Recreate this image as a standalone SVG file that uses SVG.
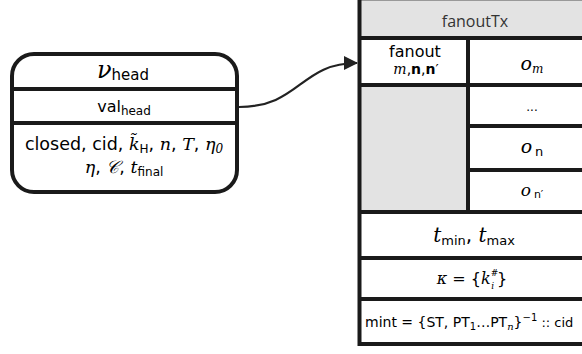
<svg xmlns="http://www.w3.org/2000/svg" width="582" height="354" viewBox="0 0 582 354">
<style>
.sans{font-family:"DejaVu Sans","Liberation Sans",sans-serif;fill:#000}
.math{font-family:"DejaVu Serif","Liberation Serif",serif;font-style:italic;fill:#000}
.hdr{font-family:"Open Sans","Noto Sans",sans-serif;fill:#333}
.ln{stroke:#1a1a1a;stroke-width:4;fill:none}
.gray{fill:#e3e3e3}
</style>
<defs>
<marker id="ah" markerWidth="14" markerHeight="14" refX="13" refY="7" orient="auto" markerUnits="userSpaceOnUse" viewBox="0 0 14 14">
<path d="M0,0 L14,7 L0,14 Z" fill="#222"/>
</marker>
</defs>
<g id="connectors">
<path d="M239,107 C300,107 300,63 357,63" fill="none" stroke="#222" stroke-width="2.2" marker-end="url(#ah)"/>
</g>
<g id="vhead">
<rect x="12" y="54" width="225" height="138" rx="22" ry="22" class="ln"/>
<line x1="12" y1="89" x2="237" y2="89" class="ln"/>
<line x1="12" y1="123" x2="237" y2="123" class="ln"/>
<text x="123" y="78" text-anchor="middle"><tspan class="math" font-size="24">ν</tspan><tspan class="sans" font-size="15" dy="2">head</tspan></text>
<text x="124" y="112" text-anchor="middle" class="sans" font-size="16">val<tspan font-size="12" dy="3">head</tspan></text>
<text x="124" y="150" text-anchor="middle" font-size="17.5"><tspan class="sans">closed, cid, </tspan><tspan class="math">k̃</tspan><tspan class="sans" font-size="12" dy="3">H</tspan><tspan class="sans" dy="-3">, </tspan><tspan class="math">n</tspan><tspan class="sans">, </tspan><tspan class="math">T</tspan><tspan class="sans">, </tspan><tspan class="math">η</tspan><tspan class="math" font-size="12" font-style="normal" dy="3">0</tspan></text>
<text x="124" y="173" text-anchor="middle" font-size="17.5"><tspan class="math">η</tspan><tspan class="sans">, </tspan><tspan class="math">𝒞</tspan><tspan class="sans">, </tspan><tspan class="math">t</tspan><tspan class="sans" font-size="12" dy="3">final</tspan></text>
</g>
<g id="fanoutTx">
<rect x="360" y="0" width="240" height="38" class="gray"/>
<rect x="360" y="85" width="108" height="127" class="gray"/>
<line x1="360" y1="0.5" x2="600" y2="0.5" stroke="#999" stroke-width="1"/>
<line x1="359.5" y1="0" x2="359.5" y2="346" class="ln"/>
<line x1="358" y1="344" x2="600" y2="344" class="ln"/>
<line x1="358" y1="38" x2="600" y2="38" class="ln"/>
<line x1="358" y1="85" x2="600" y2="85" class="ln"/>
<line x1="468" y1="38" x2="468" y2="212" class="ln"/>
<line x1="468" y1="126" x2="600" y2="126" class="ln"/>
<line x1="468" y1="170" x2="600" y2="170" class="ln"/>
<line x1="358" y1="212" x2="600" y2="212" class="ln"/>
<line x1="358" y1="258" x2="600" y2="258" class="ln"/>
<line x1="358" y1="299" x2="600" y2="299" class="ln"/>
<text x="475" y="27" text-anchor="middle" class="hdr" font-size="16">fanoutTx</text>
<text x="415" y="57" text-anchor="middle" class="sans" font-size="16">fanout</text>
<text x="416" y="74" text-anchor="middle" font-size="14"><tspan class="math">m</tspan><tspan class="sans">,</tspan><tspan class="sans" font-weight="bold">n</tspan><tspan class="sans">,</tspan><tspan class="sans" font-weight="bold">n</tspan><tspan class="sans">′</tspan></text>
<text x="532" y="70" text-anchor="middle" class="math" font-size="19">o<tspan font-size="12" dy="3">m</tspan></text>
<text x="532" y="111" text-anchor="middle" class="sans" font-size="12">...</text>
<text x="532" y="153" text-anchor="middle" font-size="19"><tspan class="math">o</tspan><tspan class="sans" font-size="13" dx="3" dy="3">n</tspan></text>
<text x="532" y="196" text-anchor="middle" font-size="17"><tspan class="math">o</tspan><tspan class="sans" font-size="11" dx="3" dy="2">n′</tspan></text>
<text x="474" y="242" text-anchor="middle" font-size="20"><tspan class="math">t</tspan><tspan class="sans" font-size="13" dy="3">min</tspan><tspan class="sans" dy="-3">, </tspan><tspan class="math">t</tspan><tspan class="sans" font-size="13" dy="3">max</tspan></text>
<text x="472" y="284" text-anchor="middle" font-size="16"><tspan class="math" font-family="Liberation Serif">κ</tspan><tspan class="sans"> = {</tspan><tspan class="math">k</tspan><tspan class="math" font-size="9" dy="-8" font-style="normal">#</tspan><tspan class="math" font-size="9" dx="-7" dy="13">i</tspan><tspan class="sans" dx="3" dy="-5">}</tspan></text>
<text x="365" y="327" class="sans" font-size="14">mint = {ST, PT<tspan font-size="10" dy="3">1</tspan><tspan dy="-3">…PT</tspan><tspan class="math" font-size="10" dy="3">n</tspan><tspan dy="-3">}</tspan><tspan font-size="10" dy="-6">−1</tspan><tspan dy="6" font-size="13"> :: cid</tspan></text>
</g>
</svg>
